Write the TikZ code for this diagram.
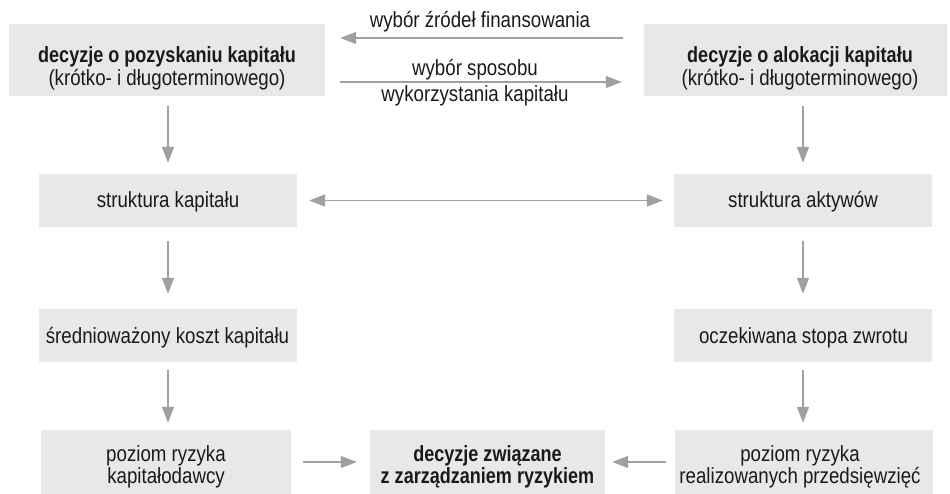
\documentclass[tikz,border=0pt]{standalone}
\usepackage{fontspec}
\setmainfont{Liberation Sans}[FakeStretch=0.85]
\newfontfamily\bcn{Liberation Sans}[FakeStretch=0.82]
\usetikzlibrary{arrows.meta}
\definecolor{boxgray}{HTML}{E8E8E8}
\definecolor{arrgray}{HTML}{A0A0A0}
\definecolor{txtcol}{HTML}{1A1A1A}
\newcommand{\bt}[1]{{\bcn\bfseries #1}}
\begin{document}
\begin{tikzpicture}[x=1pt,y=-1pt,
  box/.style={fill=boxgray, draw=none, inner sep=0pt},
  txt/.style={inner sep=0pt, anchor=base, text=txtcol, font=\fontsize{22}{22}\selectfont},
  arr/.style={draw=arrgray, line width=1.3pt, -{Triangle[length=16pt,width=12pt]}},
  darr/.style={draw=arrgray, line width=1.3pt, {Triangle[length=16pt,width=12pt]}-{Triangle[length=16pt,width=12pt]}}]
\useasboundingbox (0,0) rectangle (950,494);
% boxes
\node[box, minimum width=316pt, minimum height=72pt] (b1) at (167,60) {};
\node[box, minimum width=303pt, minimum height=72pt] (b2) at (795.5,60) {};
\node[box, minimum width=258pt, minimum height=53pt] (l2) at (168,200.5) {};
\node[box, minimum width=258pt, minimum height=53pt] (r2) at (803,200.5) {};
\node[box, minimum width=258pt, minimum height=53pt] (l3) at (168,335.5) {};
\node[box, minimum width=258pt, minimum height=53pt] (r3) at (803,335.5) {};
\node[box, minimum width=250pt, minimum height=64pt] (l4) at (166,462) {};
\node[box, minimum width=235pt, minimum height=64pt] (m4) at (487.5,462) {};
\node[box, minimum width=258pt, minimum height=64pt] (r4) at (804,462) {};
% texts
\node[txt] (t1) at (167,63) {\begin{tabular}[t]{@{}c@{}}\bt{decyzje o pozyskaniu kapitału}\\(krótko- i długoterminowego)\end{tabular}};
\node[txt] (t2) at (800,63) {\begin{tabular}[t]{@{}c@{}}\bt{decyzje o alokacji kapitału}\\(krótko- i długoterminowego)\end{tabular}};
\node[txt] (tl2) at (168,208) {struktura kapitału};
\node[txt] (tr2) at (803,208) {struktura aktywów};
\node[txt] (tl3) at (167.5,343) {średnioważony koszt kapitału};
\node[txt] (tr3) at (803.5,343) {oczekiwana stopa zwrotu};
\node[txt] (tl4) at (166,461) {\begin{tabular}[t]{@{}c@{}}poziom ryzyka\\kapitałodawcy\end{tabular}};
\node[txt] (tm4) at (487.5,461) {\begin{tabular}[t]{@{}c@{}}\bt{decyzje związane}\\\bt{z zarządzaniem ryzykiem}\end{tabular}};
\node[txt] (tr4) at (800,461) {\begin{tabular}[t]{@{}c@{}}poziom ryzyka\\realizowanych przedsięwzięć\end{tabular}};
\node[txt] (lab1) at (480,28) {wybór źródeł finansowania};
\node[txt] (lab2) at (475,76) {wybór sposobu};
\node[txt] (lab3) at (475,102) {wykorzystania kapitału};
% connectors
\coordinate (ya) at (0,38);
\coordinate (yb) at (0,82);
\draw[arr, shorten <=21pt, shorten >=15pt] (b2.west |- ya) -- (b1.east |- ya);
\draw[arr, shorten <=15pt, shorten >=22pt] (b1.east |- yb) -- (b2.west |- yb);
\draw[arr, shorten <=10pt, shorten >=11pt] (b1.south -| l2.north) -- (l2.north);
\draw[arr, shorten <=10pt, shorten >=11pt] (b2.south -| r2.north) -- (r2.north);
\draw[darr, shorten <=12pt, shorten >=11pt] (l2.east) -- (r2.west);
\draw[arr, shorten <=14pt, shorten >=15pt] (l2.south) -- (l3.north);
\draw[arr, shorten <=14pt, shorten >=15pt] (r2.south) -- (r3.north);
\draw[arr, shorten <=8pt, shorten >=7pt] (l3.south) -- (l4.north -| l3.south);
\draw[arr, shorten <=8pt, shorten >=7pt] (r3.south) -- (r4.north -| r3.south);
\draw[arr, shorten <=12pt, shorten >=13pt] (l4.east) -- (m4.west);
\draw[arr, shorten <=9pt, shorten >=7pt] (r4.west) -- (m4.east);
\end{tikzpicture}
\end{document}
